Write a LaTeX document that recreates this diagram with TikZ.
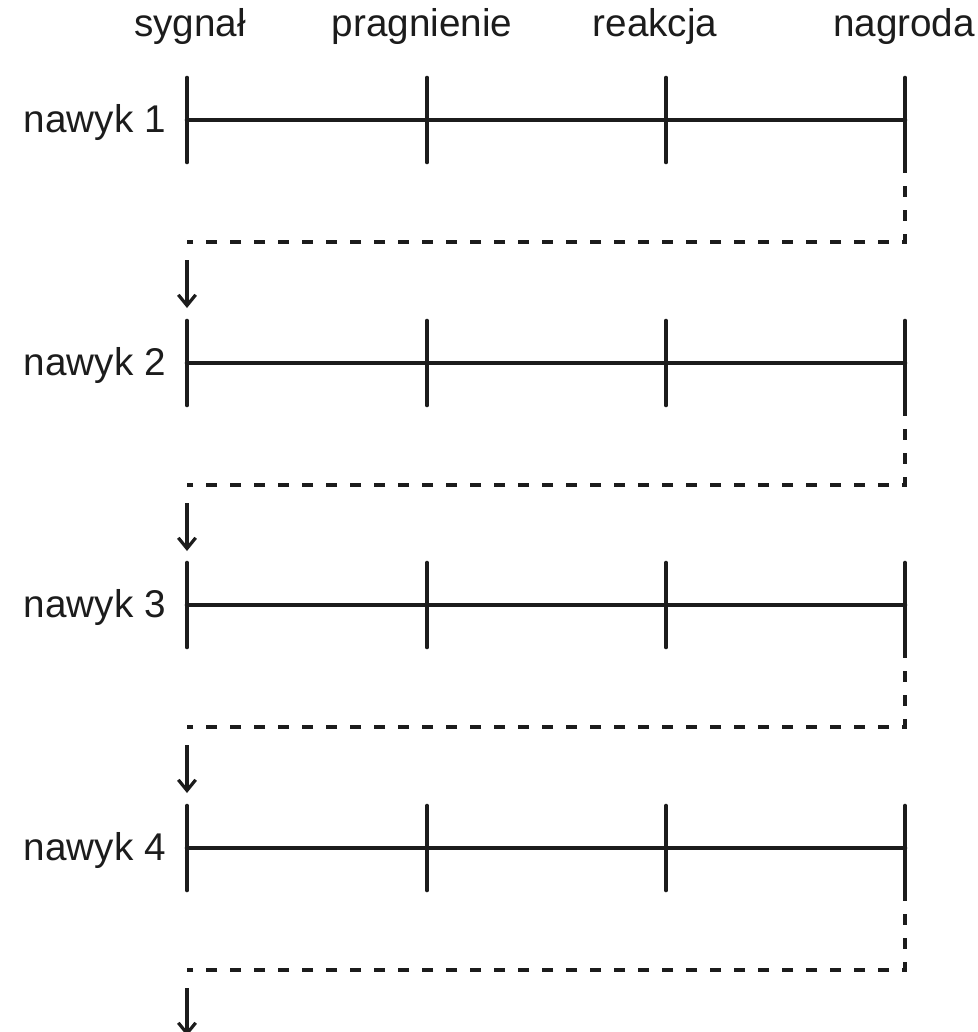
\documentclass[tikz,border=0pt]{standalone}
\usepackage{fontspec}
\setmainfont{Liberation Sans}
\definecolor{mInk}{HTML}{1C1C1C}
\usetikzlibrary{arrows.meta}

\begin{document}
\begin{tikzpicture}[x=0.75pt, y=-0.75pt,
  track/.style={draw=mInk, line width=3.5pt, line cap=round},
  link/.style={draw=mInk, line width=3pt, dash pattern=on 8pt off 10pt},
  drop/.style={draw=mInk, line width=2.6pt,
    -{Straight Barb[length=8pt, width=13pt, line width=2.4pt]}},
  lbl/.style={font=\fontsize{29}{34}\selectfont, text=mInk, inner sep=0pt}]
\useasboundingbox (0,0) rectangle (978,1032);

% stages
\node[lbl, anchor=base] (hsig) at (190,36) {sygnał};
\node[lbl, anchor=base] (hpra) at (422,36) {pragnienie};
\node[lbl, anchor=base] (hrea) at (655,36) {reakcja};
\node[lbl, anchor=base] (hnag) at (904,36) {nagroda};

% habits, each chained to the next
\foreach \r/\y in {1/120, 2/363, 3/605, 4/848} {
  \node[lbl, anchor=base east] (nawyk\r) at (166,\y+12) {nawyk \r};
  \foreach \c/\x in {1/187, 2/427, 3/666, 4/905} {
    \coordinate (p\r\c) at (\x,\y);
    \coordinate (top\r\c) at (\x,\y-42);
    \coordinate (bot\r\c) at (\x,\y+42);
    \draw[track] (top\r\c) -- (bot\r\c);
  }
  \draw[track] (p\r1) -- (p\r4);
  \coordinate (turn\r) at (187,\y+122);
  \coordinate (go\r) at (187,\y+140);
  \coordinate (end\r) at (187,\y+188);
  \draw[link] (bot\r4) |- (turn\r);
  \draw[drop] (go\r) -- (end\r);
}
\end{tikzpicture}
\end{document}
